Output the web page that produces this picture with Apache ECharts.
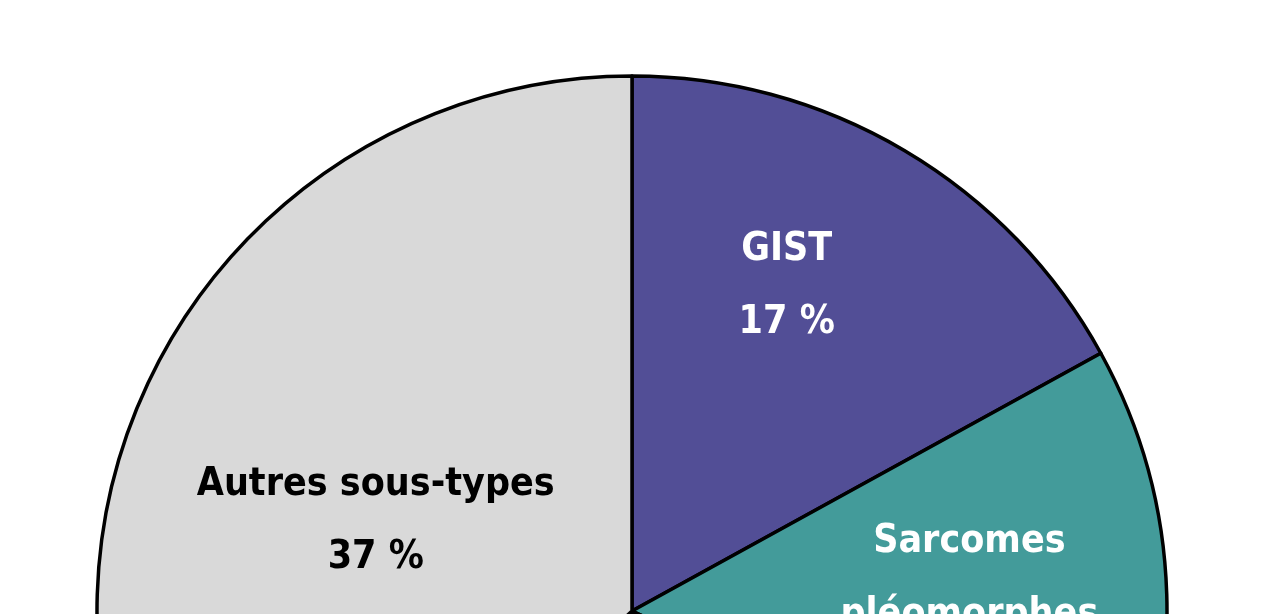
<!DOCTYPE html>
<html>
<head>
<meta charset="utf-8">
<script src="https://cdn.jsdelivr.net/npm/echarts@6/dist/echarts.min.js"></script>
<style>
html,body{margin:0;padding:0;background:#fff;}
#chart{width:1280px;height:614px;}
</style>
</head>
<body>
<div id="chart"></div>
<script>
const categories = ['GIST', 'Sarcomes\npléomorphes', 'Liposarcomes', 'Léiomyosarcomes', 'Autres sous-types'];
const values = [17, 15, 17, 14, 37];
const colors = ['#524E96', '#439B9A', '#E3A33B', '#B8436B', '#D9D9D9'];
const labelColors = ['#ffffff', '#ffffff', '#000000', '#ffffff', '#000000'];
const labelOffsets = [[17, -92], [67, 12], [0, 0], [0, 0], [-8, 18]];

const chart = echarts.init(document.getElementById('chart'));
chart.setOption({
  animation: false,
  backgroundColor: '#ffffff',
  series: [{
    type: 'pie',
    center: [632, 611],
    radius: 535,
    startAngle: 90,
    clockwise: true,
    silent: true,
    itemStyle: { borderColor: '#000000', borderWidth: 3.5 },
    label: {
      show: true,
      position: 'inside',
      formatter: p => p.name + '\n' + p.value + ' %',
      fontFamily: "'Liberation Sans Narrow', 'DejaVu Sans Condensed', sans-serif",
      fontWeight: 'bold',
      fontSize: 39,
      lineHeight: 73,
      align: 'center'
    },
    labelLine: { show: false },
    data: categories.map((c, i) => ({
      name: c,
      value: values[i],
      itemStyle: { color: colors[i] },
      label: { color: labelColors[i], offset: labelOffsets[i] }
    }))
  }]
});
</script>
</body>
</html>
